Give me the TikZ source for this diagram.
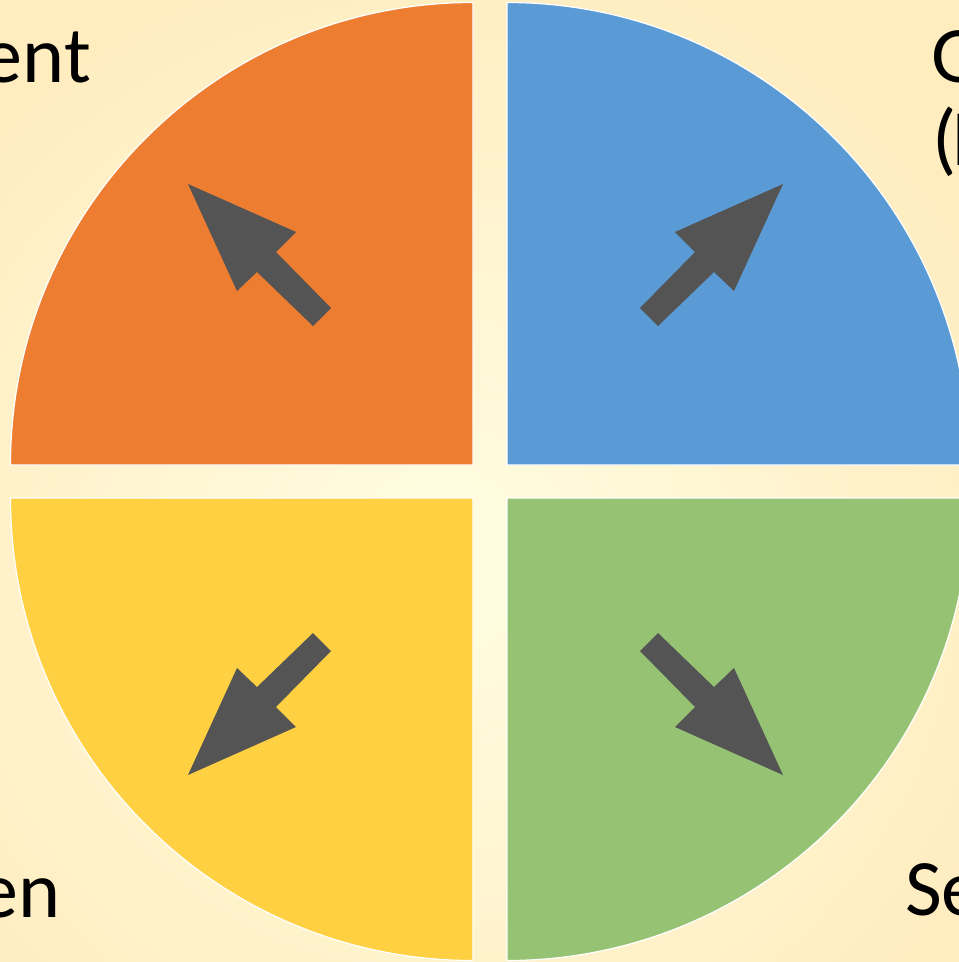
\documentclass[tikz,border=0pt]{standalone}
\usepackage{fontspec}
\setmainfont{Carlito}
\definecolor{bgout}{HTML}{FFEDC0}
\definecolor{bgin}{HTML}{FFFDE2}
\definecolor{qorange}{HTML}{ED7D31}
\definecolor{qblue}{HTML}{5B9BD5}
\definecolor{qyellow}{HTML}{FFD142}
\definecolor{qgreen}{HTML}{95C273}
\definecolor{arrowgray}{HTML}{545454}
\begin{document}
\begin{tikzpicture}[x=1pt,y=-1pt,
  quad/.style={draw=white,line width=1.2pt},
  arr/.style={fill=arrowgray},
  lbl/.style={font=\fontsize{80}{96}\selectfont,inner sep=0pt}]
\useasboundingbox (0,0) rectangle (959,962);
\clip (0,0) rectangle (959,962);
% background
\fill[bgout] (0,0) rectangle (959,962);
\shade[inner color=bgin,outer color=bgout] (440,560) circle (620);
% quadrants
\coordinate (co) at (473,465);
\coordinate (cb) at (507,465);
\coordinate (cy) at (473,498);
\coordinate (cg) at (507,498);
\path[quad,fill=qorange] (co) -- ++(-462.5,0) arc[start angle=180,end angle=270,radius=462.5] -- cycle;
\path[quad,fill=qblue] (cb) -- ++(462.5,0) arc[start angle=0,end angle=-90,radius=462.5] -- cycle;
\path[quad,fill=qyellow] (cy) -- ++(-462.5,0) arc[start angle=180,end angle=90,radius=462.5] -- cycle;
\path[quad,fill=qgreen] (cg) -- ++(462.5,0) arc[start angle=0,end angle=90,radius=462.5] -- cycle;
% arrows
\fill[arr] (188,184) -- (296,232) -- (276,252) -- (331,308) -- (313,326) -- (257,272) -- (237,291) -- cycle;
\fill[arr] (783,184) -- (675,232) -- (695,252) -- (640,308) -- (658,326) -- (714,272) -- (734,291) -- cycle;
\fill[arr] (188,775) -- (296,727) -- (276,707) -- (331,651) -- (313,633) -- (257,687) -- (237,668) -- cycle;
\fill[arr] (783,775) -- (675,727) -- (695,707) -- (640,651) -- (658,633) -- (714,687) -- (734,668) -- cycle;
% labels (cut by the picture edge, as in the reference)
\node[lbl,anchor=base east] (tl) at (91,82) {ent};
\node[lbl,anchor=base west] (tr1) at (931,82) {G};
\node[lbl,anchor=base west] (tr2) at (932,165) {(\kern-5pt I};
\node[lbl,anchor=base east] (bl) at (61,917) {en};
\node[lbl,anchor=base west] (br) at (905,915) {Se};
\end{tikzpicture}
\end{document}
